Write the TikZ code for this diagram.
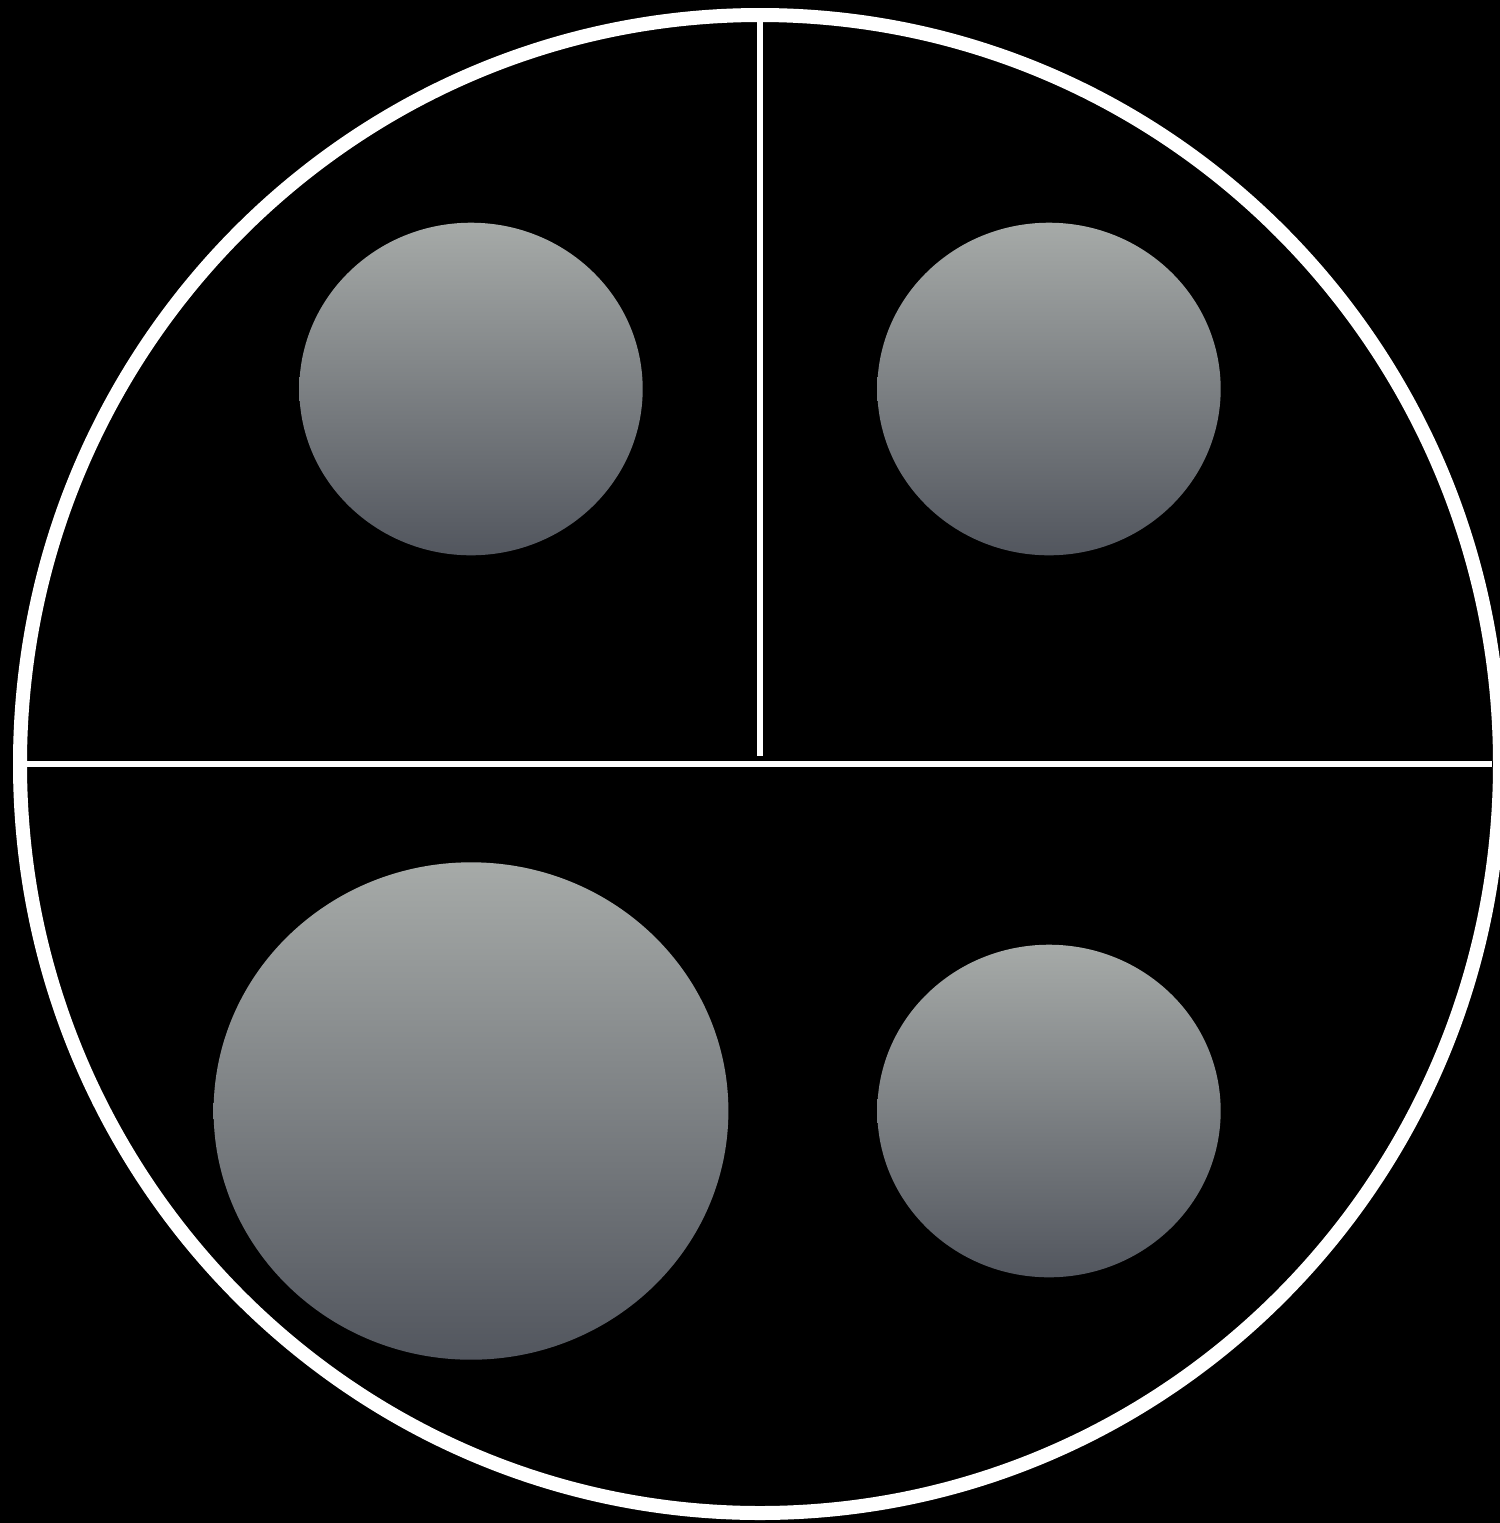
\documentclass[tikz,border=0pt]{standalone}
\usetikzlibrary{shapes.geometric}
\definecolor{gtop}{RGB}{166,170,168}
\definecolor{gbot}{RGB}{82,86,94}
\begin{document}
\begin{tikzpicture}[x=0.5pt,y=-0.5pt,
  blob/.style={ellipse, draw=none, inner sep=0pt, outer sep=0pt, top color=gtop, bottom color=gbot},
  small/.style={blob, minimum width=171.7pt, minimum height=166.3pt},
  large/.style={blob, minimum width=257.4pt, minimum height=248.7pt},
  divider/.style={draw=white, line width=3pt},
  rim/.style={draw=white, line width=7pt}]
\fill[black] (0,0) rectangle (1500,1523);
\useasboundingbox (0,0) rectangle (1500,1523);
% outer ring
\draw[rim] (760,764) ellipse [x radius=740, y radius=749];
% dividers
\coordinate (hl) at (27,764);
\coordinate (hr) at (1492,764);
\coordinate (vt) at (760,22);
\coordinate (vb) at (760,756);
\draw[divider] (hl) -- (hr);
\draw[divider] (vt) -- (vb);
% discs
\node[small] (tl) at (471,389) {};
\node[small] (tr) at (1049,389) {};
\node[large] (bl) at (471,1111) {};
\node[small] (br) at (1049,1111) {};
\end{tikzpicture}
\end{document}
